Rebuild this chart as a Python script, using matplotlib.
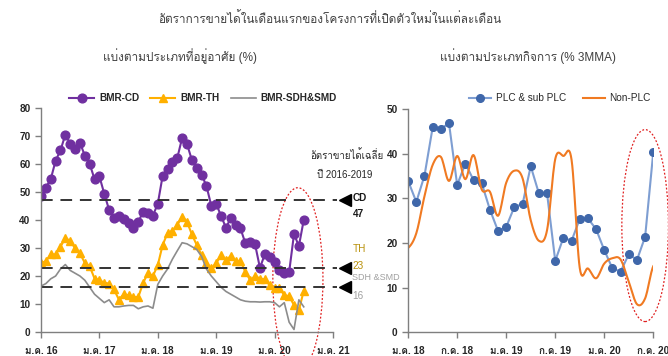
import matplotlib
matplotlib.use("Agg")
import matplotlib.pyplot as plt
from matplotlib import font_manager
from matplotlib.patches import Ellipse
from fontTools.ttLib import TTFont
import numpy as np


# หาฟอนต์ที่มีตัวอักษรไทย
def thai_family():
    for f in font_manager.fontManager.ttflist:
        try:
            tt = TTFont(f.fname, fontNumber=0, lazy=True)
            if 0x0E01 in tt.getBestCmap():
                return f.name
        except Exception:
            pass
    return None


thai = thai_family()
fams = ['Liberation Sans'] + ([thai] if thai else []) + ['DejaVu Sans']
plt.rcParams['font.family'] = fams


# เส้นโค้งแบบ Catmull-Rom ผ่านทุกจุดข้อมูล
def smooth(x, y, n=12):
    x = np.asarray(x, float)
    y = np.asarray(y, float)
    xs, ys = [], []
    for i in range(len(x) - 1):
        y0 = y[i - 1] if i > 0 else y[i]
        y3 = y[i + 2] if i + 2 < len(y) else y[i + 1]
        m1 = (y[i + 1] - y0) / 2
        m2 = (y3 - y[i]) / 2
        t = np.linspace(0, 1, n, endpoint=False)
        h00 = 2*t**3 - 3*t**2 + 1
        h10 = t**3 - 2*t**2 + t
        h01 = -2*t**3 + 3*t**2
        h11 = t**3 - t**2
        xs.extend(x[i] + t*(x[i + 1] - x[i]))
        ys.extend(h00*y[i] + h10*m1 + h01*y[i + 1] + h11*m2)
    xs.append(x[-1])
    ys.append(y[-1])
    return xs, ys


# ---- ข้อมูล: แบ่งตามประเภทที่อยู่อาศัย (รายเดือน ม.ค. 16 - ก.ค. 20)
bmr_cd = [48.6, 51.6, 54.6, 61.2, 64.9, 70.5, 67.2, 65.5, 67.7, 63.0, 60.1, 54.6,
          55.6, 49.4, 43.6, 40.6, 41.5, 40.3, 38.8, 37.0, 39.4, 43.0, 42.6, 41.6,
          45.8, 55.8, 58.2, 60.6, 62.1, 69.3, 67.2, 61.5, 58.6, 56.2, 52.2, 45.1,
          45.8, 41.5, 37.3, 40.6, 38.2, 37.0, 31.7, 32.3, 31.3, 22.9, 27.8, 26.7,
          24.9, 22.1, 21.1, 21.4, 35.0, 30.7, 40.0]
bmr_th = [24.7, 25.3, 27.7, 27.7, 30.5, 33.5, 32.6, 29.9, 28.1, 24.7, 23.5, 19.1,
          18.5, 17.6, 17.3, 15.2, 11.6, 13.5, 13.1, 12.5, 12.5, 17.6, 21.1, 20.0,
          23.9, 31.1, 35.3, 36.2, 38.2, 41.2, 39.4, 34.9, 31.1, 27.5, 24.5, 22.7,
          24.5, 27.5, 25.7, 27.1, 25.3, 25.3, 21.5, 18.5, 20.0, 19.1, 18.8, 16.7,
          15.9, 15.9, 13.1, 12.8, 9.6, 7.8, 14.7]
bmr_sdh = [16.4, 17.3, 19.0, 20.0, 22.5, 24.1, 22.0, 21.0, 20.0, 18.5, 16.0, 13.5,
           12.0, 10.5, 11.5, 9.0, 9.0, 9.3, 9.5, 9.5, 8.3, 9.0, 9.3, 8.5,
           17.0, 20.0, 22.5, 26.0, 29.0, 31.9, 31.5, 30.5, 29.5, 27.0, 22.5, 20.0,
           18.0, 16.0, 14.5, 13.5, 12.5, 11.5, 11.0, 10.8, 10.8, 10.7, 10.8, 10.8,
           10.5, 9.0, 10.5, 3.5, 0.9, 11.5, 9.0, 15.0]
bmr_sdh = bmr_sdh[:len(bmr_cd)]

# ค่าเฉลี่ย 2016-2019
avg_names = ['CD', 'TH', 'SDH &SMD']
avg_values = [47, 23, 16]
avg_colors = ['#1a1a1a', '#B8900A', '#A0A0A0']
avg_weights = ['bold', 'normal', 'normal']
avg_sizes = [7.2, 7.2, 6.5]
# ตำแหน่งป้ายชื่อ / ป้ายตัวเลข (หน่วยแกน y)
name_y = [47.9, 29.6, 19.3]
num_y = [42.2, 23.5, 12.8]

left_ticks = [0, 12, 24, 36, 48, 60]
left_labels = ['ม.ค. 16', 'ม.ค. 17', 'ม.ค. 18', 'ม.ค. 19', 'ม.ค. 20', 'ม.ค. 21']

# ---- ข้อมูล: แบ่งตามประเภทกิจการ (% 3MMA, ม.ค. 18 - ก.ค. 20)
plc = [33.9, 29.2, 35.1, 45.9, 45.6, 46.8, 33.0, 37.8, 34.1, 33.4, 27.5, 22.7,
       23.6, 28.1, 28.7, 37.2, 31.1, 31.1, 16.0, 21.2, 20.5, 25.4, 25.5, 23.1,
       18.4, 14.3, 13.6, 17.5, 16.2, 21.4, 40.4]
non_plc = [18.9, 22.2, 30.5, 37.5, 39.3, 33.9, 39.5, 34.3, 39.7, 32.0, 31.5, 26.1,
           33.5, 36.2, 34.5, 25.1, 20.5, 22.9, 38.8, 39.5, 38.6, 14.4, 14.3, 12.1,
           15.4, 16.6, 16.3, 11.3, 6.3, 7.6, 14.8]

right_ticks = [0, 6, 12, 18, 24, 30]
right_labels = ['ม.ค. 18', 'ก.ค. 18', 'ม.ค. 19', 'ก.ค. 19', 'ม.ค. 20', 'ก.ค. 20']

txt = '#404040'
fig = plt.figure(figsize=(6.68, 3.56), dpi=100)

fig.text(0.494, 0.947, 'อัตราการขายได้ในเดือนแรกของโครงการที่เปิดตัวใหม่ในแต่ละเดือน',
         ha='center', va='center', fontsize=8.5, color=txt)
fig.text(0.27, 0.843, 'แบ่งตามประเภทที่อยู่อาศัย (%)', ha='center', va='center',
         fontsize=8.5, color=txt)
fig.text(0.79, 0.843, 'แบ่งตามประเภทกิจการ (% 3MMA)', ha='center', va='center',
         fontsize=8.5, color=txt)


def style(ax):
    for s in ['top', 'right']:
        ax.spines[s].set_visible(False)
    for s in ['left', 'bottom']:
        ax.spines[s].set_color('#7f7f7f')
        ax.spines[s].set_linewidth(1)
    ax.tick_params(axis='both', colors='#7f7f7f', labelcolor='#262626',
                   labelsize=7.2, length=4, width=1)
    ax.tick_params(axis='x', pad=6)
    for lab in ax.get_xticklabels() + ax.get_yticklabels():
        lab.set_fontweight('bold')


# ---- กราฟซ้าย
ax1 = fig.add_axes([0.0614, 0.0674, 0.437, 0.629])
m = np.arange(len(bmr_cd))
ax1.plot(m, bmr_cd, color='#7030A0', lw=1.5, marker='o', ms=6.3, label='BMR-CD')
ax1.plot(m, bmr_th, color='#FFB000', lw=1.5, marker='^', ms=6.3, label='BMR-TH')
ax1.plot(np.arange(len(bmr_sdh)), bmr_sdh, color='#8c8c8c', lw=1.2, label='BMR-SDH&SMD')
ax1.set_xlim(0, 60)
ax1.set_ylim(0, 80)
ax1.set_yticks(range(0, 81, 10))
ax1.set_xticks(left_ticks)
ax1.set_xticklabels(left_labels)
style(ax1)

for name, v, c, w, fs, ny, vy in zip(avg_names, avg_values, avg_colors, avg_weights,
                                     avg_sizes, name_y, num_y):
    ax1.plot([0, 60.8], [v, v], color='#333333', lw=1.4, dashes=(6, 4), clip_on=False)
    ax1.plot([62.5], [v], marker='<', color='black', ms=9, clip_on=False)
    ax1.text(64.0, ny, name, color=c, fontsize=fs, va='center', ha='left', fontweight=w)
    ax1.text(64.0, vy, str(v), color=c, fontsize=7.2, va='center', ha='left', fontweight=w)

ax1.text(55.4, 63.2, 'อัตราขายได้เฉลี่ย', fontsize=7, color='#262626', va='center')
ax1.text(56.8, 56.0, 'ปี 2016-2019', fontsize=7, color='#262626', va='center')

ax1.add_patch(Ellipse((52.8, 18.8), 10.3, 65.5, fill=False, ec='#E02020',
                      lw=0.9, ls=(0, (1.5, 1.5)), clip_on=False))

leg1 = ax1.legend(loc='center', bbox_to_anchor=(0.555, 1.045), ncol=3, frameon=False,
                  fontsize=7.2, handlelength=2.5, columnspacing=1.1, handletextpad=0.5,
                  labelcolor='#262626')
for t in leg1.get_texts():
    t.set_fontweight('bold')

# ---- กราฟขวา
ax2 = fig.add_axes([0.611, 0.0666, 0.367, 0.627])
n = np.arange(len(plc))
ax2.plot(n, plc, color='#7E9ED2', lw=1.5, marker='o', ms=5.5,
         mfc='#3F67AA', mec='#3F67AA', label='PLC & sub PLC')
sx, sy = smooth(np.arange(len(non_plc)), non_plc)
ax2.plot(sx, sy, color='#F07A22', lw=1.5, label='Non-PLC')
ax2.set_xlim(0, 30)
ax2.set_ylim(0, 50)
ax2.set_yticks(range(0, 51, 10))
ax2.set_xticks(right_ticks)
ax2.set_xticklabels(right_labels)
style(ax2)

ax2.add_patch(Ellipse((29.0, 23.9), 5.7, 43.0, fill=False, ec='#E02020',
                      lw=0.9, ls=(0, (1.5, 1.5)), clip_on=False))

ax2.legend(loc='center', bbox_to_anchor=(0.62, 1.049), ncol=2, frameon=False,
           fontsize=7.2, handlelength=2.2, columnspacing=1.6, handletextpad=0.5,
           labelcolor='#262626')

fig.savefig('out.png', dpi=100)
